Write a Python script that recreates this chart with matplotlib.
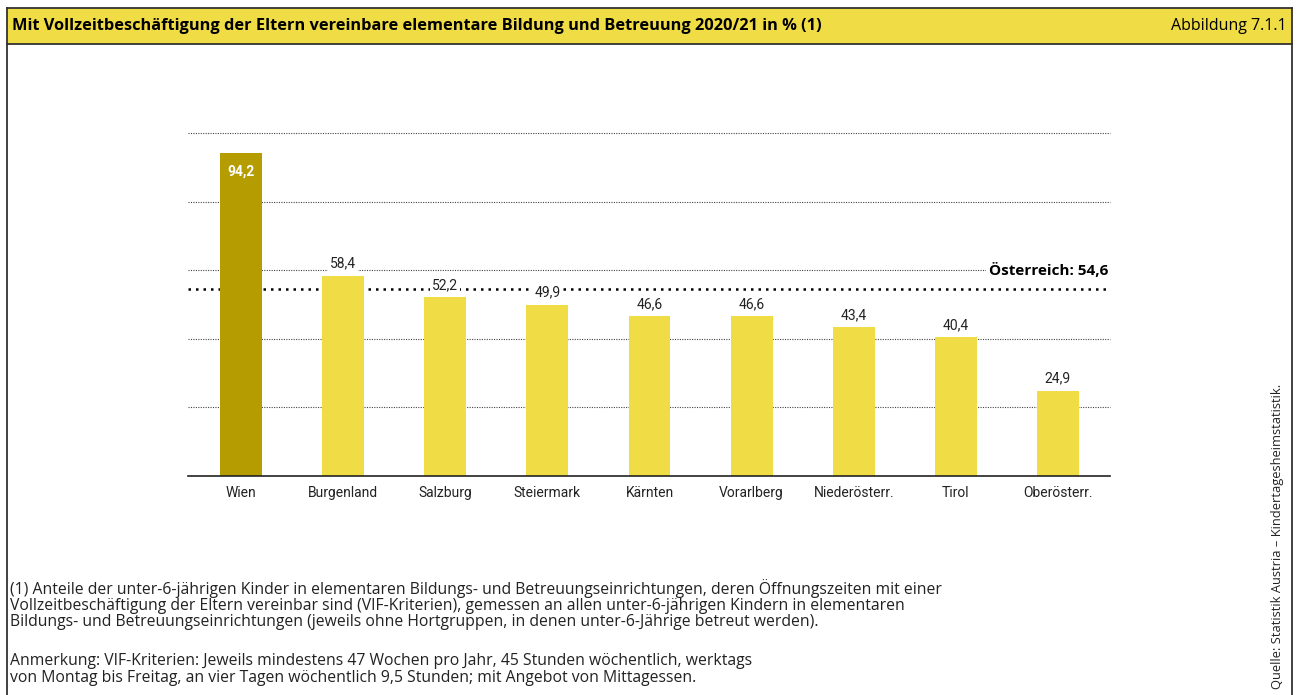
import matplotlib.pyplot as plt
from matplotlib.patches import Rectangle
from matplotlib.lines import Line2D

W, H = 1298, 695

regions = ["Wien", "Burgenland", "Salzburg", "Steiermark", "Kärnten",
           "Vorarlberg", "Niederösterr.", "Tirol", "Oberösterr."]
shares = [94.2, 58.4, 52.2, 49.9, 46.6, 46.6, 43.4, 40.4, 24.9]
austria = 54.6
grid_vals = [20, 40, 60, 80, 100]

YELLOW = "#F0DC44"
GOLD = "#B59C00"
DARK = "#222222"

plt.rcParams["font.family"] = ["Roboto", "DejaVu Sans"]
TEXT_FONT = ["Open Sans", "DejaVu Sans"]


def fx(px):
    return px / W


def fy(py):
    return 1 - py / H


fig = plt.figure(figsize=(W / 100, H / 100), dpi=100)

# frame and header band
fig.patches.append(Rectangle((fx(7), fy(44)), fx(1292) - fx(7), fy(8) - fy(44),
                             transform=fig.transFigure, facecolor=YELLOW,
                             edgecolor="none", zorder=0))
for xs, ys in [((7, 7), (8, 700)), ((1292, 1292), (8, 700)),
               ((7, 1292), (8, 8)), ((7, 1292), (44, 44))]:
    fig.lines.append(Line2D([fx(x) for x in xs], [fy(y) for y in ys],
                            transform=fig.transFigure, color="#333333", lw=1.3))

fig.text(fx(12), fy(26), "Mit Vollzeitbeschäftigung der Eltern vereinbare elementare Bildung und Betreuung 2020/21 in % (1)",
         fontsize=11.8, fontweight="bold", va="center", ha="left", color="black",
         family=TEXT_FONT)
fig.text(fx(1287), fy(26), "Abbildung 7.1.1", fontsize=11.5, va="center", ha="right",
         color="black", family=TEXT_FONT)

ax = fig.add_axes([fx(188), fy(476), fx(1110) - fx(188), fy(133) - fy(476)])
x = list(range(len(regions)))
colors = [GOLD] + [YELLOW] * (len(regions) - 1)
ax.bar(x, shares, width=0.41, color=colors, zorder=2)
ax.set_xlim(-0.52, len(regions) - 0.49)
ax.set_ylim(0, 100)

for g in grid_vals:
    ax.axhline(g, color="#444444", lw=0.8, ls=(0, (1, 1.2)), zorder=1, clip_on=False)
ax.axhline(austria, color="black", lw=1.8, ls=(0, (1, 2.0)), zorder=1)
ax.text(len(regions) - 0.51, austria + 3.2, "Österreich: 54,6", fontsize=11,
        fontweight="bold", ha="right", va="bottom", zorder=3, family=TEXT_FONT,
        bbox=dict(facecolor="white", edgecolor="none", pad=2))

for i, v in enumerate(shares):
    label = f"{v:.1f}".replace(".", ",")
    if i == 0:
        ax.text(i, v - 3.5, label, ha="center", va="top", color="white",
                fontsize=10, fontweight="bold", zorder=3)
    else:
        ax.text(i, v + 1.5, label, ha="center", va="bottom", color=DARK,
                fontsize=10, zorder=3,
                bbox=dict(facecolor="white", edgecolor="none", pad=1.5))

ax.set_xticks(x)
ax.set_xticklabels(regions, fontsize=10, color=DARK)
ax.tick_params(axis="x", length=0, pad=7)
ax.set_yticks([])
for s in ["top", "right", "left"]:
    ax.spines[s].set_visible(False)
ax.spines["bottom"].set_color("#222222")
ax.spines["bottom"].set_linewidth(1.2)

notes = [
    (589, "(1) Anteile der unter-6-jährigen Kinder in elementaren Bildungs- und Betreuungseinrichtungen, deren Öffnungszeiten mit einer"),
    (606, "Vollzeitbeschäftigung der Eltern vereinbar sind (VIF-Kriterien), gemessen an allen unter-6-jährigen Kindern in elementaren"),
    (622, "Bildungs- und Betreuungseinrichtungen (jeweils ohne Hortgruppen, in denen unter-6-Jährige betreut werden)."),
    (661, "Anmerkung: VIF-Kriterien: Jeweils mindestens 47 Wochen pro Jahr, 45 Stunden wöchentlich, werktags"),
    (678, "von Montag bis Freitag, an vier Tagen wöchentlich 9,5 Stunden; mit Angebot von Mittagessen."),
]
for ypx, line in notes:
    fig.text(fx(10), fy(ypx), line, fontsize=11.3, va="center", ha="left", color=DARK,
             family=TEXT_FONT)

fig.text(fx(1277), fy(689), "Quelle: Statistik Austria – Kindertagesheimstatistik.",
         rotation=90, fontsize=9.3, ha="center", va="bottom", color=DARK, family=TEXT_FONT)

fig.savefig("out.png", dpi=100)
